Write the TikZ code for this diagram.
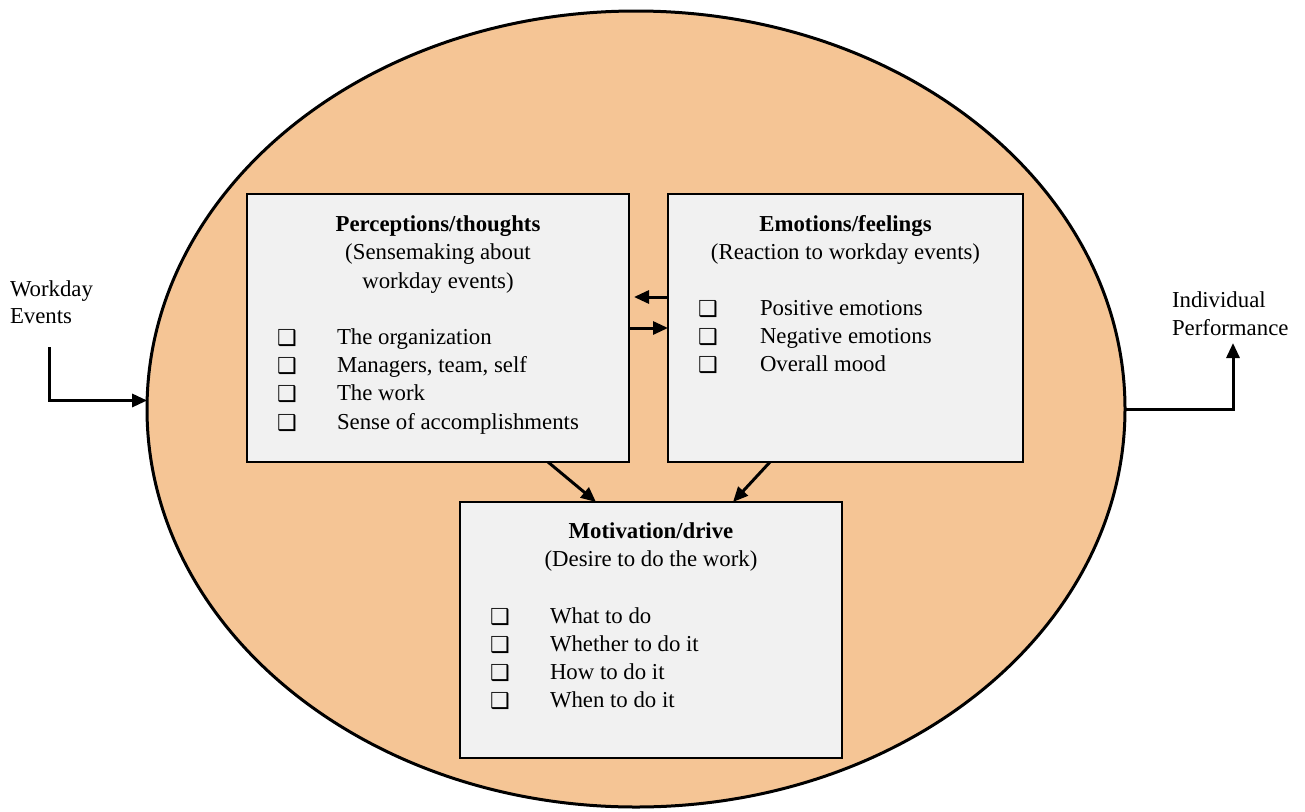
\documentclass[tikz,border=0pt]{standalone}
\usepackage{fontspec}
\setmainfont{Liberation Serif}
\newfontfamily\symfont{DejaVu Sans}
\usetikzlibrary{arrows.meta,calc,shapes.geometric}

\definecolor{peach}{RGB}{245,197,149}
\definecolor{panelgray}{RGB}{241,241,241}

\begin{document}
\begin{tikzpicture}[x=1pt,y=-1pt,
  every node/.style={inner sep=0pt, outer sep=0pt},
  txt/.style={font=\fontsize{22.8}{28}\selectfont, anchor=base},
  ttl/.style={font=\fontsize{22.8}{28}\selectfont\bfseries, anchor=base},
  item/.style={font=\fontsize{22.8}{28}\selectfont, anchor=base west},
  chk/.style={font=\symfont\fontsize{22}{22}\selectfont, anchor=base},
  panel/.style={draw=black, line width=1.8pt, fill=panelgray},
  arr/.style={line width=3pt, -{Triangle[length=15pt,width=13pt]}},
  ]
\useasboundingbox (0,0) rectangle (1305,811);
\fill[white] (0,0) rectangle (1305,811);

% the surrounding ellipse
\node[ellipse, draw=black, line width=3pt, fill=peach,
      minimum width=978pt, minimum height=796pt] (circ) at (636,409) {};

% the three panels
\node[panel, minimum width=382pt, minimum height=268pt] (perc) at (438,328) {};
\node[panel, minimum width=355pt, minimum height=268pt] (emo) at (845.5,328) {};
\node[panel, minimum width=382pt, minimum height=256pt] (moti) at (651,630) {};

% Perceptions / thoughts
\node[ttl] (percT) at (438,231) {Perceptions/thoughts};
\node[txt] (percS1) at (438,259) {(Sensemaking about};
\node[txt] (percS2) at (438,288) {workday events)};
\node[chk] (pc1) at (287,345) {❑};
\node[item] (pi1) at (337,344) {The organization};
\node[chk] (pc2) at (287,373) {❑};
\node[item] (pi2) at (337,372) {Managers, team, self};
\node[chk] (pc3) at (287,401) {❑};
\node[item] (pi3) at (337,400) {The work};
\node[chk] (pc4) at (287,430) {❑};
\node[item] (pi4) at (337,429) {Sense of accomplishments};

% Emotions / feelings
\node[ttl] (emoT) at (845.5,231) {Emotions/feelings};
\node[txt] (emoS) at (845.5,259) {(Reaction to workday events)};
\node[chk] (ec1) at (708,316) {❑};
\node[item] (ei1) at (760,315) {Positive emotions};
\node[chk] (ec2) at (708,344) {❑};
\node[item] (ei2) at (760,343) {Negative emotions};
\node[chk] (ec3) at (708,372) {❑};
\node[item] (ei3) at (760,371) {Overall mood};

% Motivation / drive
\node[ttl] (motT) at (651,538) {Motivation/drive};
\node[txt] (motS) at (651,566) {(Desire to do the work)};
\node[chk] (mc1) at (500,624) {❑};
\node[item] (mi1) at (550,623) {What to do};
\node[chk] (mc2) at (500,652) {❑};
\node[item] (mi2) at (550,651) {Whether to do it};
\node[chk] (mc3) at (500,680) {❑};
\node[item] (mi3) at (550,679) {How to do it};
\node[chk] (mc4) at (500,708) {❑};
\node[item] (mi4) at (550,707) {When to do it};

% outside labels
\node[item] (wd1) at (10,296) {Workday};
\node[item] (wd2) at (10,323) {Events};
\node[item] (ip1) at (1172,307) {Individual};
\node[item] (ip2) at (1172,335) {Performance};

% connector anchors
\coordinate (wdStart) at (49,347);
\coordinate (ipEnd) at (1233,343);
\coordinate (upY) at (0,297);
\coordinate (dnY) at (0,328);

% arrows between the panels
\draw[arr] (emo.west |- upY) -- ([xshift=5pt]perc.east |- upY);
\draw[arr] ([xshift=1pt]perc.east |- dnY) -- (emo.west |- dnY);
\draw[arr] ([xshift=110pt]perc.south) -- ([xshift=-55pt]moti.north);
\draw[arr] ([xshift=-75.5pt]emo.south) -- ([xshift=82pt]moti.north);

% input and output
\draw[arr] (wdStart) |- (circ.179.2);
\draw[arr] (circ.-0.5) -| (ipEnd);

\end{tikzpicture}
\end{document}
